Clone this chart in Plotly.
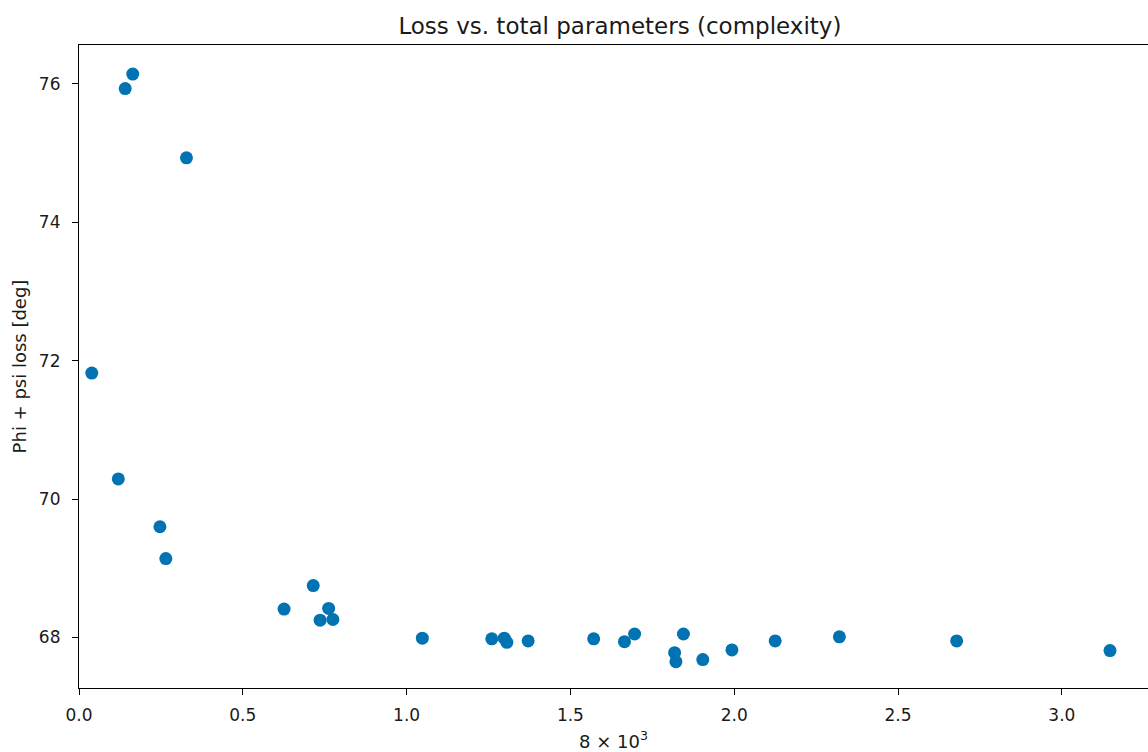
import plotly.graph_objects as go

# total parameters (in units of 8x10^3) and phi+psi loss [deg]
params = [0.039, 0.120, 0.141, 0.164, 0.247, 0.265, 0.328, 0.626, 0.715, 0.736,
          0.762, 0.775, 1.048, 1.260, 1.298, 1.306, 1.371, 1.571, 1.665, 1.696,
          1.818, 1.822, 1.845, 1.904, 1.993, 2.125, 2.321, 2.679, 3.147]
loss = [71.82, 70.29, 75.93, 76.14, 69.60, 69.14, 74.93, 68.41, 68.75, 68.25,
        68.42, 68.26, 67.99, 67.98, 67.99, 67.93, 67.95, 67.98, 67.94, 68.05,
        67.78, 67.65, 68.05, 67.68, 67.82, 67.95, 68.01, 67.95, 67.81]

x_ticks = [0.0, 0.5, 1.0, 1.5, 2.0, 2.5, 3.0]
y_ticks = [68, 70, 72, 74, 76]

FONT = "DejaVu Sans"
TXT = "#1a1a1a"

fig = go.Figure()
fig.add_trace(go.Scatter(
    x=params, y=loss, mode="markers",
    marker=dict(color="#0173b2", size=13, line=dict(width=0)),
    showlegend=False,
))

fig.update_layout(
    width=1148, height=752,
    margin=dict(l=79, r=0, t=45, b=64),
    paper_bgcolor="white", plot_bgcolor="white",
    font=dict(family=FONT, size=17, color=TXT),
    title=dict(text="Loss vs. total parameters (complexity)",
               x=0.506, xref="paper", xanchor="center",
               y=1 - 26 / 752, yanchor="middle",
               font=dict(family=FONT, size=23, color=TXT)),
    xaxis=dict(
        range=[0, 3.263], tickvals=x_ticks, ticktext=[f"{v:.1f}" for v in x_ticks],
        showgrid=False, zeroline=False,
        showline=True, linecolor="black", linewidth=1.2, mirror=True,
        ticks="outside", ticklen=6, tickwidth=1.2, tickcolor="black",
        ticklabelstandoff=5,
        tickfont=dict(size=17, color=TXT),
        title=dict(text="8 × 10<sup>3</sup>", standoff=11,
                   font=dict(size=18, color=TXT)),
    ),
    yaxis=dict(
        range=[67.27, 76.56], tickvals=y_ticks, ticktext=[str(v) for v in y_ticks],
        showgrid=False, zeroline=False,
        showline=True, linecolor="black", linewidth=1.2, mirror=False,
        ticks="outside", ticklen=6, tickwidth=1.2, tickcolor="black",
        ticklabelstandoff=8,
        tickfont=dict(size=17, color=TXT),
        title=dict(text="Phi + psi loss [deg]", standoff=7,
                   font=dict(size=18, color=TXT)),
    ),
)

fig.write_html("out.html")
